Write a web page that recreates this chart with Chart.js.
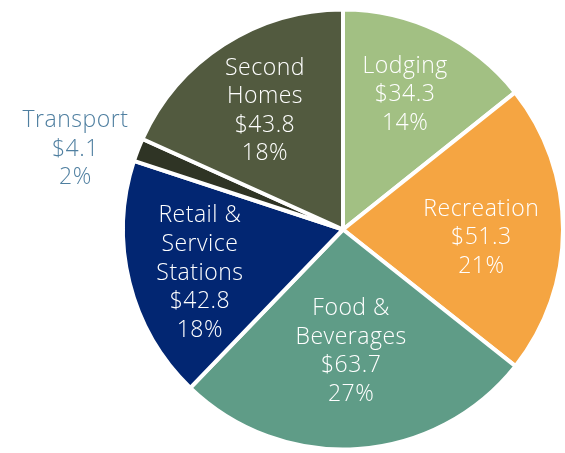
<!DOCTYPE html>
<html>
<head>
<meta charset="utf-8">
<script src="https://cdn.jsdelivr.net/npm/chart.js@4"></script>
<style>
  html, body { margin: 0; padding: 0; background: #fff; }
  #wrap { width: 565px; height: 453px; }
</style>
</head>
<body>
<div id="wrap"><canvas id="pieChart"></canvas></div>
<script>
// =============================
// DATA
// =============================
const categories = ["Lodging", "Recreation", "Food & Beverages", "Retail & Service Stations", "Transport", "Second Homes"];
const labelLines = [
    ["Lodging"],
    ["Recreation"],
    ["Food &", "Beverages"],
    ["Retail &", "Service", "Stations"],
    ["Transport"],
    ["Second", "Homes"]
];
const spending = [34.3, 51.3, 63.7, 42.8, 4.1, 43.8];
const percents = ["14%", "21%", "27%", "18%", "2%", "18%"];
const sliceColors = ["#a2c083", "#f5a542", "#5f9c87", "#022672", "#2f3425", "#525a3f"];

// =============================
// LABEL PLUGIN
// =============================
const sliceLabels = {
    id: "sliceLabels",
    afterDatasetsDraw(chart, args, opts) {
        const ctx = chart.ctx;
        const meta = chart.getDatasetMeta(0);
        ctx.save();
        ctx.font = opts.font;
        ctx.letterSpacing = opts.letterSpacing;
        ctx.textAlign = "center";
        ctx.textBaseline = "middle";
        meta.data.forEach((arc, i) => {
            const p = arc.getProps(["x", "y", "startAngle", "endAngle", "outerRadius"], true);
            const mid = (p.startAngle + p.endAngle) / 2 + opts.shift[i] * Math.PI / 180;
            const r = p.outerRadius * opts.radius[i];
            const cx = p.x + Math.cos(mid) * r;
            const cy = p.y + Math.sin(mid) * r;
            const lines = labelLines[i].concat(["$" + spending[i].toFixed(1), percents[i]]);
            const top = cy - (lines.length - 1) * opts.lineHeight / 2;
            ctx.fillStyle = opts.colors[i];
            lines.forEach((t, j) => ctx.fillText(t, cx, top + j * opts.lineHeight));
        });
        ctx.restore();
    }
};

// =============================
// CHART
// =============================
new Chart(document.getElementById("pieChart"), {
    type: "pie",
    data: {
        labels: categories,
        datasets: [{
            data: spending,
            backgroundColor: sliceColors,
            borderColor: "#ffffff",
            borderWidth: 4
        }]
    },
    options: {
        responsive: true,
        maintainAspectRatio: false,
        animation: false,
        layout: { padding: { left: 121, right: 0, top: 6, bottom: 0 } },
        plugins: {
            legend: { display: false },
            tooltip: { enabled: false },
            sliceLabels: {
                font: "300 23px 'Open Sans'",
                letterSpacing: "0.5px",
                lineHeight: 28.6,
                radius: [0.675, 0.63, 0.555, 0.68, 1.27, 0.645],
                shift: [-1, 3.5, 0, -3, -4.5, -0.5],
                colors: ["#fff", "#fff", "#fff", "#fff", "#4f7fa0", "#fff"]
            }
        }
    },
    plugins: [sliceLabels]
});
</script>
</body>
</html>
